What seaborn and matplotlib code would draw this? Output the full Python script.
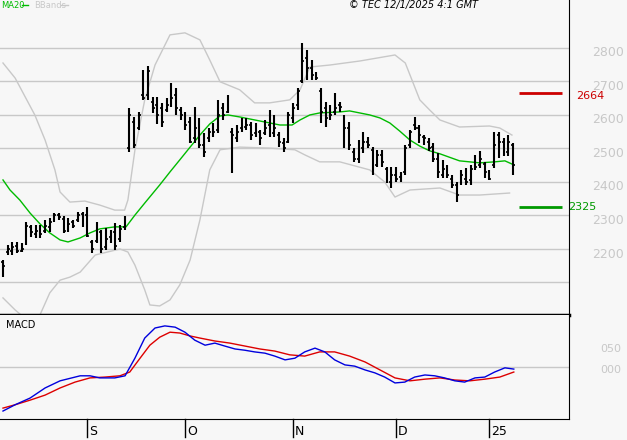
import matplotlib
matplotlib.use("Agg")
import matplotlib.pyplot as plt
import seaborn as sns
import pandas as pd
import numpy as np

# ---------------- data ----------------
highs = [2167,2212,2222,2222,2218,2281,2272,2272,2272,2287,2292,2308,2308,2297,2292,2287,2311,2311,2326,2227,
         2281,2257,2262,2257,2277,2272,2297,2620,2595,2610,2734,2746,2655,2655,2635,2650,2695,2680,2625,2610,
         2595,2625,2590,2545,2560,2575,2645,2635,2660,2560,2570,2590,2590,2580,2575,2555,2585,2615,2600,2550,
         2530,2610,2635,2680,2814,2794,2764,2729,2680,2640,2630,2665,2640,2600,2580,2500,2525,2550,2535,2505,
         2496,2496,2446,2446,2446,2431,2510,2555,2595,2570,2540,2530,2515,2486,2466,2451,2421,2401,2436,2441,
         2451,2480,2491,2461,2436,2550,2550,2530,2540,2515]
lows = [2116,2182,2182,2187,2191,2212,2237,2232,2232,2247,2252,2281,2287,2247,2252,2262,2281,2267,2237,2187,
        2217,2187,2197,2217,2197,2222,2257,2490,2501,2555,2645,2645,2605,2572,2565,2610,2625,2600,2585,2555,
        2515,2515,2500,2475,2520,2535,2545,2585,2605,2426,2520,2550,2555,2525,2535,2510,2540,2535,2535,2505,
        2490,2515,2575,2615,2695,2704,2704,2704,2575,2565,2585,2600,2610,2500,2495,2460,2456,2486,2500,2421,
        2446,2446,2396,2381,2401,2401,2421,2500,2555,2515,2510,2491,2461,2411,2411,2411,2381,2341,2391,2391,
        2391,2436,2441,2411,2406,2441,2471,2476,2476,2421]
opens = [2160,2190,2195,2210,2195,2220,2265,2245,2260,2255,2265,2290,2300,2290,2260,2280,2285,2305,2300,2220,
         2225,2250,2205,2235,2250,2230,2265,2500,2580,2560,2660,2660,2640,2630,2620,2615,2640,2660,2615,2595,
         2580,2530,2570,2510,2530,2545,2555,2620,2610,2550,2530,2560,2565,2570,2545,2550,2545,2570,2545,2540,
         2515,2520,2590,2630,2700,2770,2740,2720,2670,2620,2595,2610,2630,2590,2560,2490,2470,2500,2520,2495,
         2450,2480,2440,2400,2420,2415,2430,2510,2570,2560,2535,2520,2505,2470,2420,2440,2410,2390,2400,2410,
         2405,2440,2450,2455,2430,2450,2540,2520,2490,2510]
closes = [2150,2200,2205,2195,2200,2270,2250,2255,2245,2270,2280,2300,2295,2255,2275,2270,2300,2290,2240,2200,
          2260,2200,2230,2240,2210,2260,2290,2600,2510,2600,2650,2730,2620,2600,2580,2630,2650,2620,2600,2570,
          2520,2560,2510,2490,2550,2550,2600,2600,2630,2540,2550,2570,2570,2540,2560,2530,2560,2540,2560,2520,
          2500,2600,2620,2670,2760,2740,2720,2710,2610,2590,2600,2620,2625,2560,2510,2470,2510,2520,2510,2440,
          2480,2460,2400,2420,2410,2410,2500,2550,2560,2540,2530,2500,2470,2430,2440,2420,2390,2360,2420,2400,
          2440,2445,2470,2430,2410,2510,2520,2500,2520,2450]

ma_x = [0,1.5,3.6,5.8,7.9,10,12.2,13.9,16.5,18.6,20.7,23.9,26.3,28.2,30.3,33.5,35.7,37.8,40,42.1,44.2,46.4,48.1,
        50.6,54.9,59.2,61.8,63.5,65.6,67.7,72,74.1,78.4,80.6,82.7,84.8,87,89.1,91.2,93.4,97.6,101.9,105.1,107.3,109.2]
ma_v = [2406,2376,2346,2307,2275,2248,2227,2221,2233,2248,2260,2266,2266,2301,2337,2391,2430,2466,2504,2540,2573,2597,2600,
        2594,2582,2570,2570,2585,2600,2606,2609,2612,2600,2591,2576,2552,2525,2507,2493,2484,2463,2457,2460,2463,2451]

up_x = [0,2.6,6.8,9,11.1,12.2,14.3,17.5,20.7,23.9,26,26.7,28.2,30.3,32.5,35.7,38.9,42.1,44.2,46.4,50.6,53.8,57,61.3,
        63.5,65.6,69.9,76.3,83.8,86,89.1,91.2,93.4,97.6,104,106.2,108.8]
up_v = [2755,2710,2600,2525,2436,2370,2340,2343,2331,2316,2316,2346,2495,2645,2749,2839,2845,2824,2764,2699,2675,2636,2636,2645,
        2675,2743,2749,2761,2779,2755,2645,2615,2585,2564,2567,2561,2540]
lo_x = [0,2.6,5.8,7.9,10,12.2,14.3,16.5,19.7,25,26.7,28.2,30.3,31.4,33.5,35.7,37.8,40,42.1,44.2,46.4,50.6,57,62.4,64.5,
        67.7,72,78.4,81.6,83.8,87,93.4,97.6,101.9,108.3]
lo_v = [2054,2018,1980,2003,2069,2107,2116,2131,2182,2200,2191,2152,2078,2033,2030,2048,2093,2167,2287,2436,2496,2504,2501,2496,2481,
        2460,2460,2436,2400,2355,2376,2382,2361,2361,2367]

macd_x = [0,2.6,5.8,9,12.2,16.5,18.6,20.7,23.9,26.1,28.2,30.3,32.5,34.6,36.8,38.9,41,43.2,45.3,47.4,49.6,51.7,53.8,56,58.1,
          60.3,62.4,64.5,66.7,68.8,70.9,73.1,75.2,77.4,79.5,81.6,83.8,85.9,88,90.2,92.3,94.4,96.6,98.7,100.9,103,105.1,107.3,109.2]
macd_v = [-105,-90,-74,-50,-33,-21,-21,-26,-26,-21,21,69,93,98,95,83,64,52,57,50,43,40,36,33,26,
          17,21,36,45,36,17,5,2,-7,-14,-24,-38,-36,-24,-19,-21,-26,-33,-36,-26,-24,-12,-2,-5]
sig_x = [0,2.6,5.8,9,12.2,15.4,18.6,21.8,25,27.1,29.3,31.4,33.5,35.7,37.8,40,42.1,45.3,48.5,51.7,54.9,58.1,61.3,64.5,67.7,
         70.9,74.1,77.4,80.6,83.8,87,90.2,93.4,96.6,99.8,103,106.2,109.2]
sig_v = [-98,-90,-79,-67,-50,-36,-26,-24,-21,-12,21,52,71,83,81,74,69,62,57,50,43,38,29,26,36,
         36,26,12,-7,-26,-33,-29,-26,-31,-33,-29,-24,-12]

resistance = 2664
support = 2325
month_ticks = [18, 39, 62, 84, 104]
month_labels = ["S", "O", "N", "D", "25"]
price_ticks = [2200, 2300, 2400, 2500, 2600, 2700, 2800]

# ---------------- figure ----------------
BG = "#f7f7f7"
GRID = "#c8c8c8"
W, H = 627, 440
fig = plt.figure(figsize=(W/100, H/100), dpi=100, facecolor=BG)
ax = fig.add_axes([0, (440-315)/H, 569/W, 315/H], facecolor=BG)
ax2 = fig.add_axes([0, 21/H, 569/W, 104/H], facecolor=BG)

XL = (-0.64, 121.0)
ax.set_xlim(*XL); ax2.set_xlim(*XL)
ax.set_ylim(2003, 2943)
ax2.set_ylim(-124, 124)

for a in (ax, ax2):
    for s in ("left", "top"):
        a.spines[s].set_visible(False)
    a.spines["right"].set_color("black")
    a.spines["bottom"].set_color("black")
    a.set_xticks([]); a.set_yticks([])
ax.spines["bottom"].set_linewidth(2.5)

for p in [2100] + price_ticks:
    ax.axhline(p, color=GRID, lw=1, zorder=0)
ax2.axhline(0, color=GRID, lw=1, zorder=0)

# bands and MA
sns.lineplot(x=up_x, y=up_v, ax=ax, color="#c8c8c8", lw=1, zorder=1)
sns.lineplot(x=lo_x, y=lo_v, ax=ax, color="#c8c8c8", lw=1, zorder=1)
sns.lineplot(x=ma_x, y=ma_v, ax=ax, color="#00bb00", lw=1, zorder=3)

# OHLC bars
idx = np.arange(len(highs))
ax.vlines(idx, lows, highs, color="black", lw=1.5, zorder=4)
ax.hlines(opens, idx - 0.4, idx, color="black", lw=1.2, zorder=4)
ax.hlines(closes, idx, idx + 0.4, color="black", lw=1.2, zorder=4)

# support / resistance
ax.hlines(resistance, 110.3, 119.5, color="#cc0000", lw=2)
ax.hlines(support, 110.3, 119.5, color="#009900", lw=2)
ax.text(1.012, resistance - 8, str(resistance), color="#cc0000", fontsize=8,
        transform=ax.get_yaxis_transform(), va="center", clip_on=False)
ax.text(0.998, support, str(support), color="#009900", fontsize=8,
        transform=ax.get_yaxis_transform(), va="center", clip_on=False)
for p in price_ticks:
    ax.text(1.04, p - 15, str(p), color=GRID, fontsize=9,
            transform=ax.get_yaxis_transform(), va="center", clip_on=False)
ax.set_xlabel(""); ax.set_ylabel("")

# MACD
sns.lineplot(x=sig_x, y=sig_v, ax=ax2, color="#dd0000", lw=1)
sns.lineplot(x=macd_x, y=macd_v, ax=ax2, color="#0000dd", lw=1)
ax2.text(0.01, 0.9, "MACD", transform=ax2.transAxes, fontsize=7, va="center")
for v, lab in [(50, "050"), (0, "000")]:
    ax2.text(1.055, v - 8, lab, color=GRID, fontsize=8,
             transform=ax2.get_yaxis_transform(), va="center", clip_on=False)
ax2.set_xlabel(""); ax2.set_ylabel("")

# month ticks
for t, lab in zip(month_ticks, month_labels):
    ax2.plot([t, t], [0, -0.17], color="black", lw=1, transform=ax2.get_xaxis_transform(), clip_on=False)
    ax2.text(t + 0.4, -0.12, lab, transform=ax2.get_xaxis_transform(), fontsize=9, va="center", clip_on=False)

# header
fig.text(1/W, 1 - 5/H, "MA20", color="#00bb00", fontsize=6, va="center")
fig.add_artist(plt.Line2D([22/W, 28/W], [1 - 5/H, 1 - 5/H], color="#00bb00", lw=1))
fig.text(34/W, 1 - 5/H, "BBands", color="#c8c8c8", fontsize=6, va="center")
fig.add_artist(plt.Line2D([61/W, 68/W], [1 - 5/H, 1 - 5/H], color="#c8c8c8", lw=1))
fig.text(478/W, 1 - 5/H, "© TEC 12/1/2025 4:1 GMT", fontsize=7, style="italic", ha="right", va="center")

fig.savefig("out.png", dpi=100, facecolor=BG)
